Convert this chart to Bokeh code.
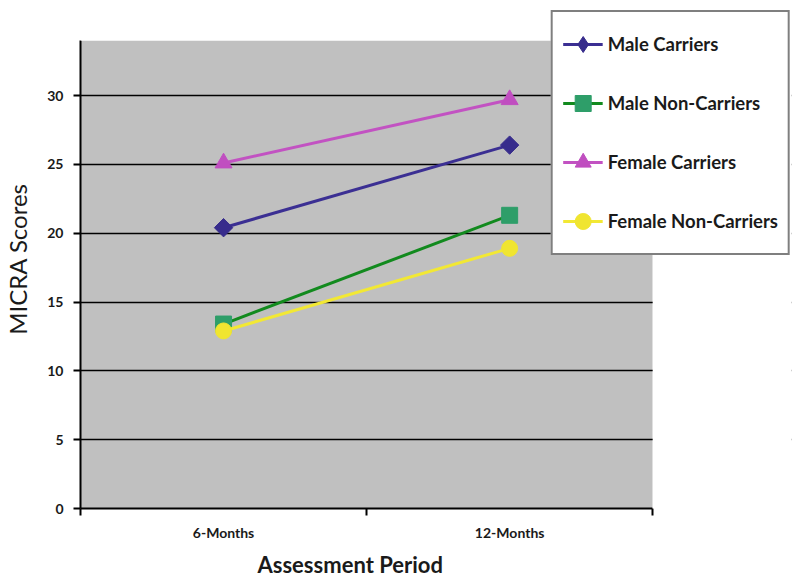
import math
from bokeh.plotting import figure
from bokeh.models import FixedTicker, Legend, LegendItem, Range1d, BoxAnnotation, Title
from bokeh.embed import file_html
from bokeh.resources import INLINE

periods = ["6-Months", "12-Months"]
male_carriers = [20.4, 26.4]
male_non_carriers = [13.4, 21.3]
female_carriers = [25.1, 29.7]
female_non_carriers = [12.9, 18.9]
y_ticks = [0, 5, 10, 15, 20, 25, 30]
y_max = 34
n = len(periods)

FONT = "Lato"

W, H = 800, 587
LEFT, RIGHT, TOP, BOTTOM = 79, 9, 9, 79
frame_w = W - LEFT - RIGHT
frame_h = H - TOP - BOTTOM
area_w, area_h = 573, 468  # pixel size of the gray plotting area

# frame extends past the plotting area so the legend can sit over its edge
p = figure(width=W, height=H, output_backend="svg", toolbar_location=None,
           x_range=Range1d(0, n * frame_w / area_w), y_range=Range1d(0, y_max * frame_h / area_h),
           min_border_left=LEFT, min_border_right=RIGHT, min_border_top=TOP, min_border_bottom=BOTTOM)
p.background_fill_color = "white"
p.border_fill_color = "white"
p.outline_line_color = None

# gray plotting area
p.add_layout(BoxAnnotation(left=0, right=n, bottom=0, top=y_max, fill_color="#C0C0C0",
                           fill_alpha=1, line_color=None, level="image"))
# white cover outside the plotting area (hides grid lines there)
p.add_layout(BoxAnnotation(left=n, fill_color="white", fill_alpha=1, line_color=None, level="guide"))
p.add_layout(BoxAnnotation(bottom=y_max, fill_color="white", fill_alpha=1, line_color=None, level="guide"))

xs = [i + 0.5 for i in range(n)]

series = [
    ("Male Carriers", male_carriers, "#3B2F93", "#372C8C", "square", math.pi / 4, 13),
    ("Male Non-Carriers", male_non_carriers, "#128A1E", "#2E9E69", "square", 0, 16),
    ("Female Carriers", female_carriers, "#C252C2", "#C04EC0", "triangle", 0, 17),
    ("Female Non-Carriers", female_non_carriers, "#F2E834", "#F0E530", "circle", 0, 16),
]

items = []
for name, vals, lc, mc, marker, ang, size in series:
    l = p.line(xs, vals, line_color=lc, line_width=3)
    if ang:
        # diamond drawn beneath the rotated square: gives the legend its diamond shape
        d = p.scatter(xs, vals, marker="diamond", size=15, fill_color=mc, line_color=mc)
        p.scatter(xs, vals, marker=marker, angle=ang, size=size, fill_color=mc, line_color=mc)
        items.append(LegendItem(label=name, renderers=[l, d]))
    else:
        s = p.scatter(xs, vals, marker=marker, size=size, fill_color=mc, line_color=mc)
        items.append(LegendItem(label=name, renderers=[l, s]))

# x axis
p.xaxis.bounds = (0, n)
p.xaxis.ticker = FixedTicker(ticks=xs, minor_ticks=list(range(n + 1)))
p.xaxis.major_label_overrides = {x: lab for x, lab in zip(xs, periods)}
p.xaxis.major_tick_line_color = None
p.xaxis.major_tick_out = 0
p.xaxis.major_tick_in = 0
p.xaxis.minor_tick_line_color = "black"
p.xaxis.minor_tick_line_width = 2
p.xaxis.minor_tick_out = 7
p.xaxis.minor_tick_in = 0
p.xaxis.axis_line_color = "black"
p.xaxis.axis_line_width = 2
p.xaxis.major_label_standoff = 8
p.xaxis.major_label_text_font = FONT
p.xaxis.major_label_text_font_style = "bold"
p.xaxis.major_label_text_font_size = "14px"
p.xaxis.major_label_text_color = "#1a1a1a"

p.add_layout(Title(text="Assessment Period", align="left", offset=177, standoff=11,
                   text_font=FONT, text_font_style="bold", text_font_size="22px",
                   text_color="#1a1a1a"), "below")

# y axis
p.yaxis.bounds = (0, y_max)
p.yaxis.ticker = FixedTicker(ticks=y_ticks, minor_ticks=[])
p.yaxis.major_tick_line_color = "black"
p.yaxis.major_tick_line_width = 2
p.yaxis.major_tick_out = 7
p.yaxis.major_tick_in = 0
p.yaxis.axis_line_color = "black"
p.yaxis.axis_line_width = 2
p.yaxis.major_label_standoff = 10
p.yaxis.major_label_text_font = FONT
p.yaxis.major_label_text_font_style = "bold"
p.yaxis.major_label_text_font_size = "14px"
p.yaxis.major_label_text_color = "#1a1a1a"
p.yaxis.axis_label = "MICRA Scores"
p.yaxis.axis_label_text_font = FONT
p.yaxis.axis_label_text_font_style = "normal"
p.yaxis.axis_label_text_font_size = "24px"
p.yaxis.axis_label_text_color = "#1a1a1a"
p.yaxis.axis_label_standoff = 12

p.xgrid.grid_line_color = None
p.ygrid.ticker = FixedTicker(ticks=y_ticks[1:])
p.ygrid.grid_line_color = "black"
p.ygrid.grid_line_width = 1.5

legend = Legend(items=items, location="top_right",
                glyph_width=40, glyph_height=44, label_height=44,
                spacing=15, padding=10, label_standoff=5, margin=1,
                border_line_color="black", border_line_width=2,
                background_fill_color="white", background_fill_alpha=1,
                label_text_font=FONT, label_text_font_style="bold",
                label_text_font_size="18.5px", label_text_color="#1a1a1a")
p.add_layout(legend, "center")

open("out.html", "w").write(file_html(p, INLINE))
